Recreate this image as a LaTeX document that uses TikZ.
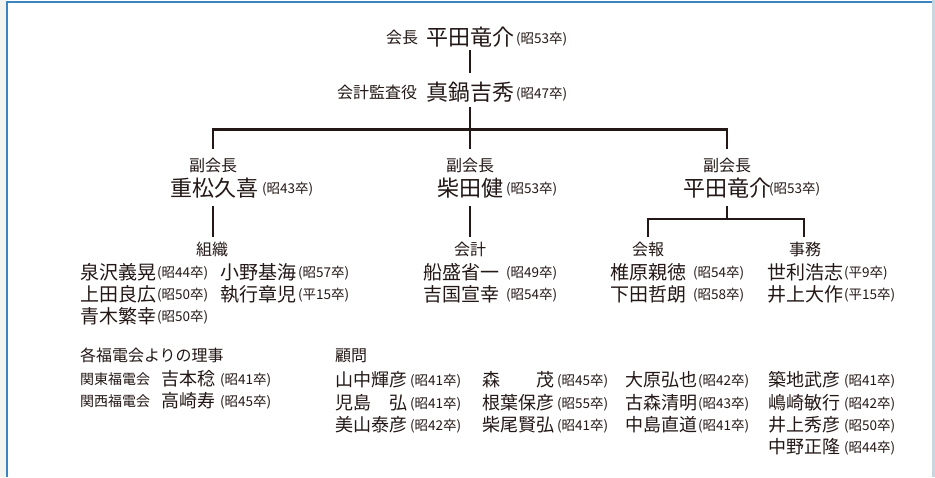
\documentclass[tikz,border=0pt]{standalone}
\usepackage{fontspec}
\newfontfamily\jp{Noto Sans CJK JP}
\definecolor{ink}{HTML}{231815}
\definecolor{frameblue}{HTML}{3B84C1}
\definecolor{sidegray}{HTML}{F3F3EF}
\definecolor{rightgray}{HTML}{C9D5DF}
\tikzset{
  basetxt/.style={inner sep=0pt, outer sep=0pt, text=ink, anchor=base west},
  bigname/.style={basetxt, font=\jp\fontsize{22}{22}\selectfont},
  pname/.style={basetxt, font=\jp\fontsize{19}{19}\selectfont},
  bname/.style={basetxt, font=\jp\fontsize{18}{18}\selectfont},
  yr/.style={basetxt, font=\jp\fontsize{13.5}{14}\selectfont},
  lab/.style={basetxt, font=\jp\fontsize{16}{16}\selectfont},
  clab/.style={lab, anchor=base},
  slab/.style={basetxt, font=\jp\fontsize{14}{14}\selectfont},
  conn/.style={draw=ink, line width=2.6pt, line join=miter},
}
\begin{document}
\begin{tikzpicture}[x=1pt,y=-1pt]
\useasboundingbox (0,0) rectangle (935,477);
% background and frame
\fill[white] (0,0) rectangle (935,477);
\fill[sidegray] (0,0) rectangle (5.8,477);
\fill[rightgray] (931.5,0) rectangle (935,477);
\draw[frameblue, line width=2pt] (6.8,477) -- (6.8,1.8) -- (932,1.8);

% president
\node[lab] (presL) at (386,43.6) {会長};
\node[bigname] (presN) at (426,45.9) {平田竜介};
\node[yr] (presY) at (516,43.9) {(昭53卒)};
% auditor
\node[lab] (audL) at (337,98) {会計監査役};
\node[bigname] (audN) at (426,100.4) {真鍋吉秀};
\node[yr] (audY) at (516,98.4) {(昭47卒)};

% vice presidents
\node[clab] (vp1L) at (213,171) {副会長};
\node[bigname] (vp1N) at (170,196.4) {重松久喜};
\node[yr] (vp1Y) at (262,193.4) {(昭43卒)};
\node[clab] (vp2L) at (470,171) {副会長};
\node[bigname] (vp2N) at (437,196.4) {柴田健};
\node[yr] (vp2Y) at (506,193.4) {(昭53卒)};
\node[clab] (vp3L) at (727,171) {副会長};
\node[bigname] (vp3N) at (683,196.4) {平田竜介};
\node[yr] (vp3Y) at (769,193.4) {(昭53卒)};

% section labels
\node[clab] (soshiki) at (212,255) {組織};
\node[clab] (kaikei) at (470,255) {会計};
\node[clab] (kaiho) at (648,255) {会報};
\node[clab] (jimu) at (805,255) {事務};

% 組織
\node[pname] (s1) at (80,279.2) {泉沢義晃};
\node[yr] (s1y) at (157,277.4) {(昭44卒)};
\node[pname] (s2) at (220,279.2) {小野基海};
\node[yr] (s2y) at (298,277.4) {(昭57卒)};
\node[pname] (s3) at (80,301.2) {上田良広};
\node[yr] (s3y) at (157,299.4) {(昭50卒)};
\node[pname] (s4) at (220,301.2) {執行章児};
\node[yr] (s4y) at (298,299.4) {(平15卒)};
\node[pname] (s5) at (80,323.2) {青木繁幸};
\node[yr] (s5y) at (157,321.4) {(昭50卒)};
% 会計
\node[pname] (k1) at (423,279.2) {船盛省一};
\node[yr] (k1y) at (506,277.4) {(昭49卒)};
\node[pname] (k2) at (423,301.2) {吉国宣幸};
\node[yr] (k2y) at (506,299.4) {(昭54卒)};
% 会報
\node[pname] (h1) at (610,279.2) {椎原親徳};
\node[yr] (h1y) at (693,277.4) {(昭54卒)};
\node[pname] (h2) at (610,301.2) {下田哲朗};
\node[yr] (h2y) at (693,299.4) {(昭58卒)};
% 事務
\node[pname] (j1) at (767,279.2) {世利浩志};
\node[yr] (j1y) at (844,277.4) {(平9卒)};
\node[pname] (j2) at (767,301.2) {井上大作};
\node[yr] (j2y) at (844,299.4) {(平15卒)};

% 理事
\node[lab] (rijiL) at (80,361) {各福電会よりの理事};
\node[slab] (r1L) at (80,384.3) {関東福電会};
\node[bname] (r1) at (161,385.8) {吉本稔};
\node[yr] (r1y) at (220,384.4) {(昭41卒)};
\node[slab] (r2L) at (80,406.3) {関西福電会};
\node[bname] (r2) at (161,407.8) {高崎寿};
\node[yr] (r2y) at (220,406.4) {(昭45卒)};

% 顧問
\node[lab] (komonL) at (335,361) {顧問};
\node[bname] (a1) at (335,386.8) {山中輝彦};
\node[yr] (a1y) at (410,385.4) {(昭41卒)};
\node[bname] (a2) at (335,409.8) {児島　弘};
\node[yr] (a2y) at (410,408.4) {(昭41卒)};
\node[bname] (a3) at (335,431.8) {美山泰彦};
\node[yr] (a3y) at (410,430.4) {(昭42卒)};
\node[bname] (b1) at (482,386.8) {森　　茂};
\node[yr] (b1y) at (557,385.4) {(昭45卒)};
\node[bname] (b2) at (482,409.8) {根葉保彦};
\node[yr] (b2y) at (557,408.4) {(昭55卒)};
\node[bname] (b3) at (482,431.8) {柴尾賢弘};
\node[yr] (b3y) at (557,430.4) {(昭41卒)};
\node[bname] (c1) at (625,386.8) {大原弘也};
\node[yr] (c1y) at (698,385.4) {(昭42卒)};
\node[bname] (c2) at (625,409.8) {古森清明};
\node[yr] (c2y) at (698,408.4) {(昭43卒)};
\node[bname] (c3) at (625,431.8) {中島直道};
\node[yr] (c3y) at (698,430.4) {(昭41卒)};
\node[bname] (d1) at (768,386.8) {築地武彦};
\node[yr] (d1y) at (844,385.4) {(昭41卒)};
\node[bname] (d2) at (768,409.8) {嶋崎敏行};
\node[yr] (d2y) at (844,408.4) {(昭42卒)};
\node[bname] (d3) at (768,431.8) {井上秀彦};
\node[yr] (d3y) at (844,430.4) {(昭50卒)};
\node[bname] (d4) at (768,453.8) {中野正隆};
\node[yr] (d4y) at (844,452.4) {(昭44卒)};

% connector end points
\coordinate (presS) at (470,50);
\coordinate (audTop) at (470,73);
\coordinate (audS) at (470,107);
\coordinate (bar) at (470,129.5);
\coordinate (vp1T) at (213,149);
\coordinate (vp2T) at (470,149);
\coordinate (vp3T) at (727,149);
\coordinate (vp1B) at (213,206);
\coordinate (vp2B) at (470,206);
\coordinate (vp3B) at (727,206);
\coordinate (sub) at (727,219);
\coordinate (soshikiT) at (213,237);
\coordinate (kaikeiT) at (470,237);
\coordinate (kaihoT) at (648,237);
\coordinate (jimuT) at (804,237);

% connectors
\draw[conn] (presS) -- (audTop);
\draw[conn] (audS) -- (vp2T);
\draw[conn] (vp1T) |- (bar) -| (vp3T);
\draw[conn] (vp1B) -- (soshikiT);
\draw[conn] (vp2B) -- (kaikeiT);
\draw[conn] (vp3B) -- (sub);
\draw[conn] (kaihoT) |- (sub) -| (jimuT);
\end{tikzpicture}
\end{document}
